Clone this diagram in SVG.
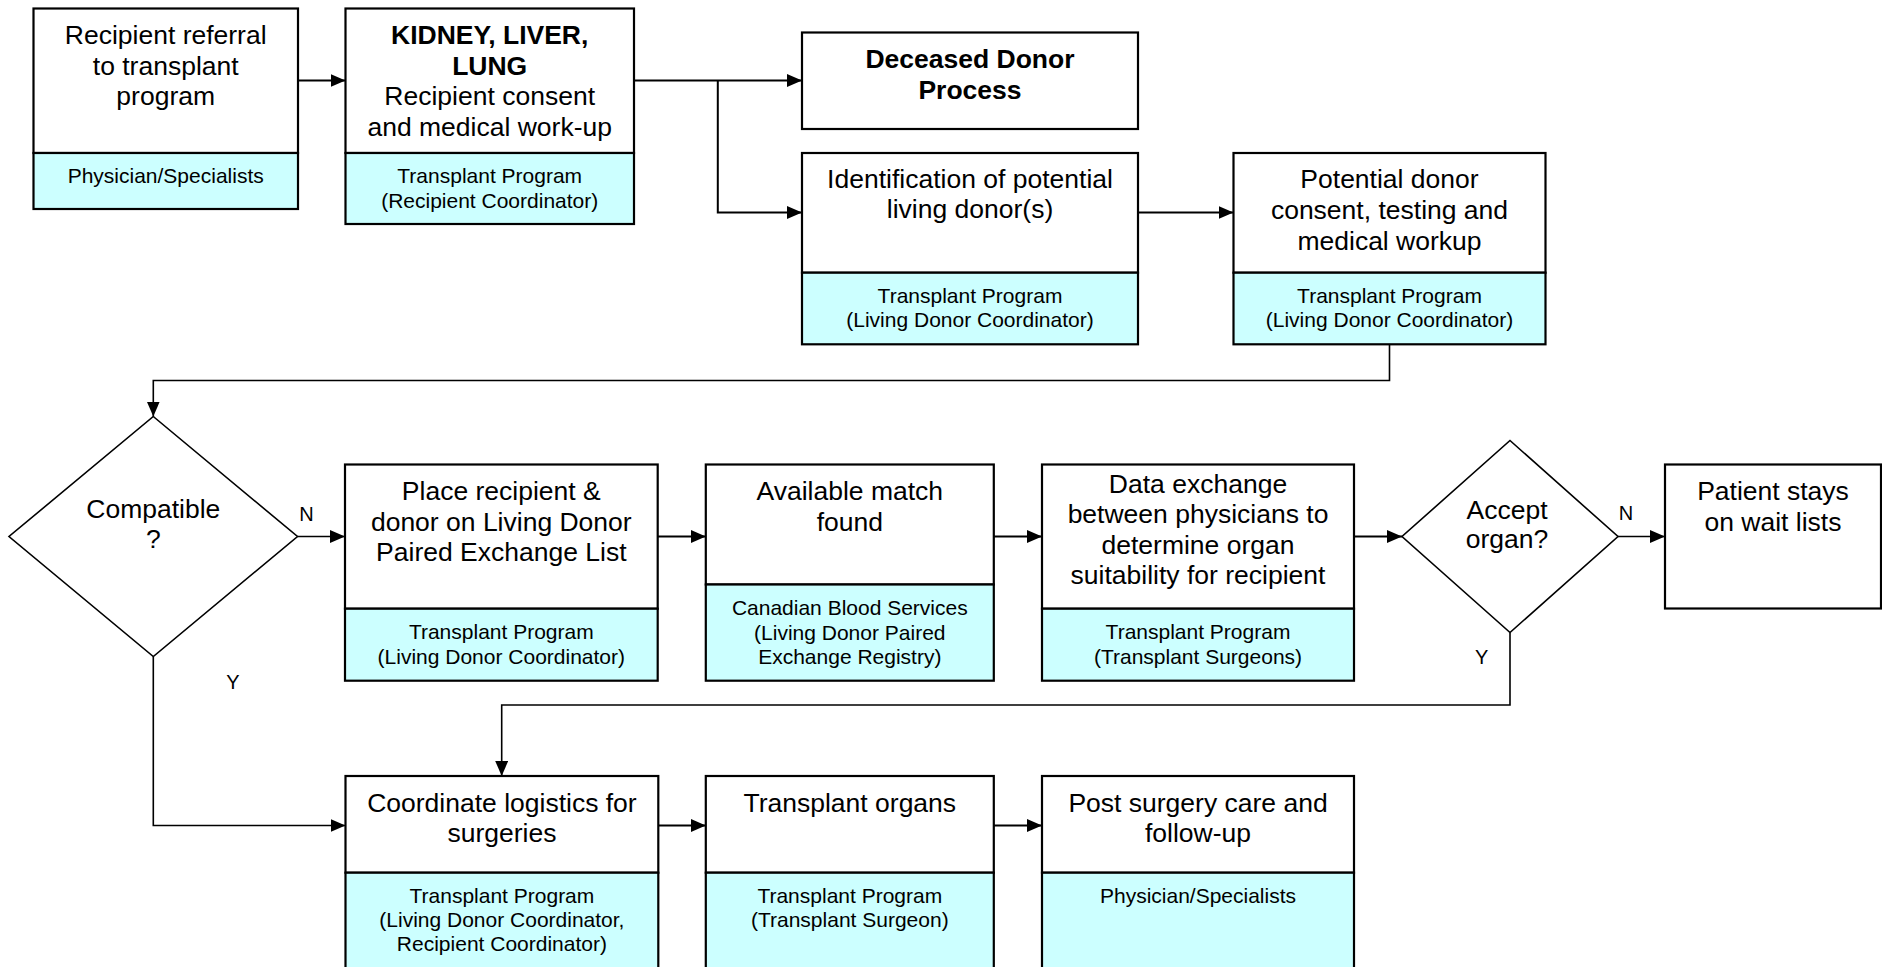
<svg xmlns="http://www.w3.org/2000/svg" width="1882" height="967" viewBox="0 0 1882 967">
<defs>
<style>
.box{fill:#fff;stroke:#000;stroke-width:2.2}
.sub{fill:#CCFFFF;stroke:#000;stroke-width:2.2}
.dia{fill:#fff;stroke:#000;stroke-width:1.6}
.t{font-family:"Liberation Sans",Arial,sans-serif;font-size:26.5px;fill:#000;text-anchor:middle}
.b{font-weight:bold}
.s{font-family:"Liberation Sans",Arial,sans-serif;font-size:21px;fill:#000;text-anchor:middle}
.l{font-family:"Liberation Sans",Arial,sans-serif;font-size:20px;fill:#000;text-anchor:middle}
.c{fill:none;stroke:#000;stroke-width:2;marker-end:url(#ah)}
.c2{fill:none;stroke:#000;stroke-width:1.6;marker-end:url(#ah)}
</style>
<marker id="ah" markerUnits="userSpaceOnUse" markerWidth="15" markerHeight="13" refX="15" refY="6.5" orient="auto">
<path d="M0,0 L15,6.5 L0,13 z" fill="#000"/>
</marker>
</defs>
<rect width="1882" height="967" fill="#fff"/>

<g id="connectors">
<path class="c" d="M297.7,80.5 H345.5"/>
<path class="c" d="M634,80.5 H802"/>
<path class="c" d="M717.8,80.5 V212.5 H802"/>
<path class="c" d="M1138,212.5 H1233.5"/>
<path class="c2" d="M1389.5,344.3 V380.5 H153.3 V416.5"/>
<path class="c2" d="M297.5,536.5 H345"/>
<path class="c" d="M657.7,536.5 H705.8"/>
<path class="c" d="M993.8,536.5 H1042"/>
<path class="c" d="M1354,536.5 H1402"/>
<path class="c2" d="M1618,536.5 H1665"/>
<path class="c2" d="M1510,632.5 V705 H501.7 V776"/>
<path class="c2" d="M153.3,656.5 V825.5 H345.5"/>
<path class="c" d="M658.3,825.5 H705.8"/>
<path class="c" d="M993.8,825.5 H1042"/>
<text class="l" x="306.5" y="521">N</text>
<text class="l" x="233" y="688.5">Y</text>
<text class="l" x="1626" y="519.5">N</text>
<text class="l" x="1481.7" y="664">Y</text>
</g>

<g id="referral">
<rect class="box" x="33.5" y="8.5" width="264.5" height="144.5"/>
<rect class="sub" x="33.5" y="153" width="264.5" height="56"/>
<text class="t" x="165.7" y="44">Recipient referral</text>
<text class="t" x="165.7" y="74.5">to transplant</text>
<text class="t" x="165.7" y="105">program</text>
<text class="s" x="165.7" y="183">Physician/Specialists</text>
</g>

<g id="workup">
<rect class="box" x="345.5" y="8.5" width="288.5" height="144.5"/>
<rect class="sub" x="345.5" y="153" width="288.5" height="71"/>
<text class="t b" x="489.7" y="44">KIDNEY, LIVER,</text>
<text class="t b" x="489.7" y="74.5">LUNG</text>
<text class="t" x="489.7" y="105">Recipient consent</text>
<text class="t" x="489.7" y="135.5">and medical work-up</text>
<text class="s" x="489.7" y="183">Transplant Program</text>
<text class="s" x="489.7" y="207.5">(Recipient Coordinator)</text>
</g>

<g id="deceased">
<rect class="box" x="802" y="32.5" width="336" height="96.5"/>
<text class="t b" x="970" y="68">Deceased Donor</text>
<text class="t b" x="970" y="98.5">Process</text>
</g>

<g id="identification">
<rect class="box" x="802" y="153" width="336" height="119.7"/>
<rect class="sub" x="802" y="272.7" width="336" height="71.6"/>
<text class="t" x="970" y="187.5">Identification of potential</text>
<text class="t" x="970" y="218">living donor(s)</text>
<text class="s" x="970" y="303">Transplant Program</text>
<text class="s" x="970" y="327">(Living Donor Coordinator)</text>
</g>

<g id="donor-workup">
<rect class="box" x="1233.5" y="153" width="312" height="119.7"/>
<rect class="sub" x="1233.5" y="272.7" width="312" height="71.6"/>
<text class="t" x="1389.5" y="187.5">Potential donor</text>
<text class="t" x="1389.5" y="218.5">consent, testing and</text>
<text class="t" x="1389.5" y="249.5">medical workup</text>
<text class="s" x="1389.5" y="303">Transplant Program</text>
<text class="s" x="1389.5" y="327">(Living Donor Coordinator)</text>
</g>

<g id="compatible">
<polygon class="dia" points="153.3,416.5 297.5,536.5 153.3,656.5 9,536.5"/>
<text class="t" x="153.3" y="518.3">Compatible</text>
<text class="t" x="153.3" y="548.3">?</text>
</g>

<g id="paired-list">
<rect class="box" x="345" y="464.5" width="312.7" height="144.2"/>
<rect class="sub" x="345" y="608.7" width="312.7" height="72"/>
<text class="t" x="501.3" y="500">Place recipient &amp;</text>
<text class="t" x="501.3" y="530.5">donor on Living Donor</text>
<text class="t" x="501.3" y="561">Paired Exchange List</text>
<text class="s" x="501.3" y="639">Transplant Program</text>
<text class="s" x="501.3" y="663.5">(Living Donor Coordinator)</text>
</g>

<g id="match">
<rect class="box" x="705.8" y="464.5" width="288" height="120"/>
<rect class="sub" x="705.8" y="584.5" width="288" height="96.2"/>
<text class="t" x="849.8" y="500">Available match</text>
<text class="t" x="849.8" y="530.5">found</text>
<text class="s" x="849.8" y="615">Canadian Blood Services</text>
<text class="s" x="849.8" y="639.5">(Living Donor Paired</text>
<text class="s" x="849.8" y="664">Exchange Registry)</text>
</g>

<g id="data-exchange">
<rect class="box" x="1042" y="464.5" width="312" height="144.2"/>
<rect class="sub" x="1042" y="608.7" width="312" height="72"/>
<text class="t" x="1198" y="492.7">Data exchange</text>
<text class="t" x="1198" y="523">between physicians to</text>
<text class="t" x="1198" y="553.5">determine organ</text>
<text class="t" x="1198" y="584">suitability for recipient</text>
<text class="s" x="1198" y="639">Transplant Program</text>
<text class="s" x="1198" y="663.5">(Transplant Surgeons)</text>
</g>

<g id="accept">
<polygon class="dia" points="1510,440.5 1618,536.5 1510,632.5 1402,536.5"/>
<text class="t" x="1507" y="519.3">Accept</text>
<text class="t" x="1507" y="548.3">organ?</text>
</g>

<g id="wait-lists">
<rect class="box" x="1665" y="464.5" width="216" height="144"/>
<text class="t" x="1773" y="500">Patient stays</text>
<text class="t" x="1773" y="530.5">on wait lists</text>
</g>

<g id="logistics">
<rect class="box" x="345.5" y="776" width="312.8" height="96.7"/>
<rect class="sub" x="345.5" y="872.7" width="312.8" height="110"/>
<text class="t" x="501.9" y="811.7">Coordinate logistics for</text>
<text class="t" x="501.9" y="842">surgeries</text>
<text class="s" x="501.9" y="902.7">Transplant Program</text>
<text class="s" x="501.9" y="927">(Living Donor Coordinator,</text>
<text class="s" x="501.9" y="951.3">Recipient Coordinator)</text>
</g>

<g id="transplant">
<rect class="box" x="705.8" y="776" width="288" height="96.7"/>
<rect class="sub" x="705.8" y="872.7" width="288" height="110"/>
<text class="t" x="849.8" y="811.7">Transplant organs</text>
<text class="s" x="849.8" y="902.7">Transplant Program</text>
<text class="s" x="849.8" y="927">(Transplant Surgeon)</text>
</g>

<g id="post-care">
<rect class="box" x="1042" y="776" width="312" height="96.7"/>
<rect class="sub" x="1042" y="872.7" width="312" height="110"/>
<text class="t" x="1198" y="811.7">Post surgery care and</text>
<text class="t" x="1198" y="842">follow-up</text>
<text class="s" x="1198" y="902.7">Physician/Specialists</text>
</g>
</svg>
